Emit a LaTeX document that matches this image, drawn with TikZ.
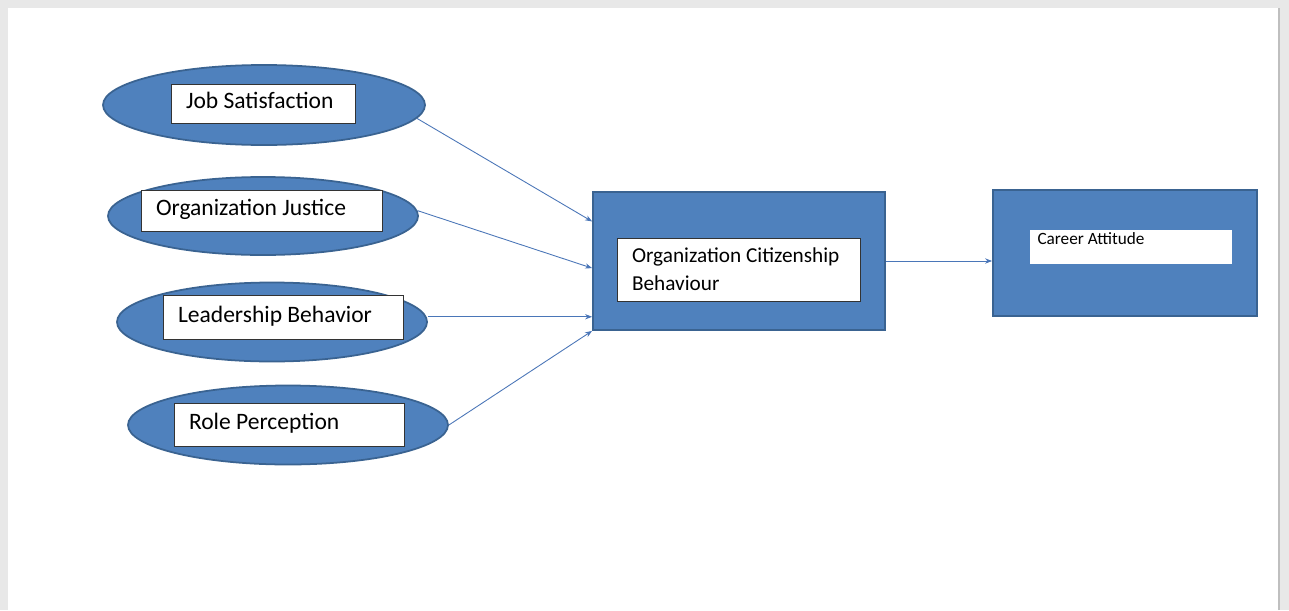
\documentclass[tikz,border=0pt]{standalone}
\usepackage{fontspec}
\setmainfont{Carlito}
\usepackage{xcolor}
\usetikzlibrary{positioning,shapes.geometric,arrows.meta,calc}

\definecolor{boxblue}{HTML}{4F81BD}
\definecolor{edgeblue}{HTML}{3A6391}
\definecolor{linkblue}{HTML}{4A76B8}

\begin{document}
\begin{tikzpicture}[
      factor/.style={ellipse,draw=edgeblue,line width=1pt,fill=boxblue},
      tag/.style={rectangle,draw=black!80,line width=0.5pt,fill=white,align=flush left,inner xsep=0.3cm,text height=0.34cm,text depth=0.14cm,font=\fontsize{13.4}{16}\selectfont},
      block/.style={rectangle,draw=edgeblue,line width=1pt,fill=boxblue},
      link/.style={draw=linkblue,line width=0.5pt,-{Stealth[length=4pt,width=3pt]}}]
      % page
      \fill[black!9] (0,0) rectangle (25.78,12.2);
      \fill[white] (0.16,0) rectangle (25.56,12.04);
      \draw[black!25,line width=0.8pt] (25.58,0) -- (25.58,12.04);
      \useasboundingbox (0,0) rectangle (25.78,12.2);
      % factors on the left
      \node[factor,minimum width=6.44cm,minimum height=1.6cm] (js) at (5.28,10.10) {};
      \node[tag,text width=3.08cm,minimum height=0.78cm] (jst) at (5.26,10.13) {Job Satisfaction};
      \node[factor,minimum width=6.2cm,minimum height=1.56cm] (oj) at (5.26,7.88) {};
      \node[tag,text width=4.22cm,minimum height=0.82cm] (ojt) at (5.23,7.99) {Organization Justice};
      \node[factor,minimum width=6.2cm,minimum height=1.58cm] (lb) at (5.44,5.76) {};
      \node[tag,text width=4.2cm,minimum height=0.88cm] (lbt) at (5.66,5.86) {Leadership Behavior};
      \node[factor,minimum width=6.4cm,minimum height=1.58cm] (rp) at (5.76,3.70) {};
      \node[tag,text width=4.0cm,minimum height=0.86cm] (rpt) at (5.78,3.71) {Role Perception};
      % mediator and outcome
      \node[block,minimum width=5.84cm,minimum height=2.76cm] (ocb) at (14.78,6.98) {};
      \node[tag,text width=4.26cm,minimum height=1.26cm,text height=,text depth=,font=\fontsize{12.1}{16}\selectfont] (ocbt) at (14.77,6.81) {Organization Citizenship\\Behaviour};
      \node[block,minimum width=5.28cm,minimum height=2.52cm] (ca) at (22.5,7.14) {};
      \node[tag,draw=none,text width=3.74cm,inner xsep=0.15cm,inner ysep=0.02cm,text height=0.26cm,text depth=0.38cm,font=\fontsize{9.8}{12}\selectfont] (cat) at (22.62,7.26) {Career Attitude};
      % inputs on the west side of ocb
      \coordinate (in1) at ($(ocb.north west)!0.217!(ocb.south west)$);
      \coordinate (in2) at ($(ocb.north west)!0.551!(ocb.south west)$);
      \coordinate (in3) at ($(ocb.north west)!0.899!(ocb.south west)$);
      \coordinate (in4) at (ocb.south west);
      \draw[link] (js.-5) -- (in1);
      \draw[link] (oj.2) -- (in2);
      \draw[link] (lb.east |- in3) -- (in3);
      \draw[link] (rp.east) -- (in4);
      \draw[link] (ocb.east) -- (ocb.east -| ca.west);
    \end{tikzpicture}
\end{document}
